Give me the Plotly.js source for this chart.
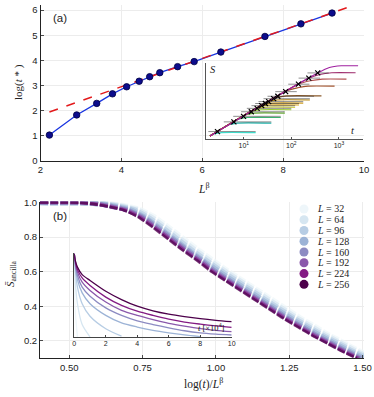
<!DOCTYPE html>
<html>
<head>
<meta charset="utf-8">
<script src="https://cdn.plot.ly/plotly-3.0.1.min.js"></script>
<style>
  html, body { margin: 0; padding: 0; background: #fff; }
  #chart { width: 374px; height: 397px; }
</style>
</head>
<body>
<div id="chart"></div>
<script>
// ---- panel (a): log(t*) vs L^beta ----
const aLbeta = [2.22, 2.895, 3.39, 3.78, 4.13, 4.44, 4.70, 4.95, 5.39, 5.80, 6.46, 7.55, 8.44, 9.21];
const aLogT = [1.03, 1.83, 2.29, 2.67, 2.95, 3.17, 3.35, 3.51, 3.75, 3.95, 4.33, 4.95, 5.45, 5.88];
const fitX = [2.22, 9.75];
const fitY = [1.95, 6.19];

// ---- inset of (a): S vs t (log t) ----
const crossT = [2.8, 6.2, 9.9, 14.4, 19.1, 23.8, 28.5, 33.4, 42.5, 51.9, 76, 141, 233, 358];
const crossS = [0.447, 0.795, 0.994, 1.159, 1.281, 1.377, 1.455, 1.524, 1.628, 1.715, 1.881, 2.149, 2.367, 2.554];
const curveT = [
  [1.95, 2.24, 3.4, 17.8],
  [1.95, 4.9, 7.4, 38],
  [1.95, 7.8, 11.7, 60],
  [1.95, 11.2, 17, 73],
  [1.95, 14.8, 22.4, 100],
  [1.95, 18.2, 27.5, 120],
  [1.95, 21.9, 33, 145],
  [1.95, 25.7, 38.9, 178],
  [1.95, 33.1, 50, 245],
  [1.95, 44.7, 79, 430],
  [1.95, 83, 137, 224, 810],
  [1.95, 141, 251, 447, 1440],
  [1.95, 224, 398, 708, 2240],
  [1.95, 355, 631, 1122, 2530]
];
const curveS = [
  [0.29, 0.35, 0.41, 0.41],
  [0.29, 0.69, 0.75, 0.75],
  [0.29, 0.89, 0.95, 0.95],
  [0.29, 1.05, 1.11, 1.11],
  [0.29, 1.17, 1.23, 1.23],
  [0.29, 1.26, 1.32, 1.32],
  [0.29, 1.34, 1.40, 1.40],
  [0.29, 1.41, 1.47, 1.47],
  [0.29, 1.52, 1.58, 1.58],
  [0.29, 1.65, 1.73, 1.73],
  [0.29, 1.92, 2.02, 2.08, 2.08],
  [0.29, 2.15, 2.27, 2.33, 2.33],
  [0.29, 2.35, 2.50, 2.56, 2.56],
  [0.29, 2.55, 2.75, 2.81, 2.81]
];
const curveColors = ['#40e0d0', '#20b2aa', '#3cb371', '#66aa33', '#9acd32', '#c0c020', '#daa520',
  '#cd9b1d', '#b8860b', '#8b5a2b', '#a0522d', '#b05050', '#a03070', '#a020a0'];
const blackFrom = [1.8, 3.8, 6, 8.8, 11.6, 14.5, 17.4, 20.4, 26, 31.6, 46, 86, 142, 218];
const blackTo = [17.8, 38, 60, 73, 100, 120, 145, 178, 245, 300, 130, 240, 400, 610];

// ---- panel (b): S_ancilla vs log(t)/L^beta ----
const Ls = [32, 64, 96, 128, 160, 192, 224, 256];
const Lcolors = ['#eef6fa', '#d6e6f1', '#b7cde4', '#9cb3d6', '#8c8bc2', '#8a58ab', '#831a83', '#4d004b'];
const bY = [1.0, 0.998, 0.99, 0.975, 0.955, 0.915, 0.855, 0.79, 0.725, 0.665, 0.605, 0.55, 0.495, 0.44, 0.385, 0.33, 0.28, 0.23, 0.185, 0.14, 0.10];
const bX = {
  32:  [0.40, 0.59, 0.64, 0.69, 0.74, 0.785, 0.835, 0.885, 0.935, 0.985, 1.035, 1.085, 1.135, 1.185, 1.235, 1.285, 1.335, 1.385, 1.435, 1.485, 1.535],
  64:  [0.40, 0.58, 0.63, 0.68, 0.73, 0.775, 0.825, 0.875, 0.925, 0.975, 1.025, 1.075, 1.125, 1.175, 1.225, 1.275, 1.325, 1.375, 1.425, 1.475, 1.525],
  96:  [0.40, 0.57, 0.62, 0.67, 0.72, 0.765, 0.815, 0.865, 0.915, 0.965, 1.015, 1.065, 1.115, 1.165, 1.215, 1.265, 1.315, 1.365, 1.415, 1.465, 1.515],
  128: [0.40, 0.56, 0.61, 0.66, 0.71, 0.755, 0.805, 0.855, 0.905, 0.955, 1.005, 1.055, 1.105, 1.155, 1.205, 1.255, 1.305, 1.355, 1.405, 1.455, 1.505],
  160: [0.40, 0.555, 0.605, 0.65, 0.70, 0.75, 0.80, 0.85, 0.90, 0.95, 0.995, 1.045, 1.095, 1.145, 1.195, 1.245, 1.295, 1.345, 1.395, 1.445, 1.495],
  192: [0.40, 0.55, 0.60, 0.645, 0.695, 0.745, 0.795, 0.845, 0.895, 0.945, 0.99, 1.04, 1.09, 1.14, 1.19, 1.24, 1.29, 1.34, 1.39, 1.44, 1.49],
  224: [0.40, 0.54, 0.59, 0.64, 0.69, 0.74, 0.79, 0.84, 0.89, 0.94, 0.985, 1.035, 1.085, 1.135, 1.185, 1.235, 1.285, 1.335, 1.385, 1.435, 1.485],
  256: [0.40, 0.535, 0.585, 0.635, 0.685, 0.735, 0.785, 0.835, 0.885, 0.935, 0.98, 1.03, 1.08, 1.13, 1.18, 1.23, 1.28, 1.33, 1.38, 1.43, 1.48]
};
const bWidth = [7, 6.5, 6, 5.5, 5, 4, 3.2, 2.6];

// ---- inset of (b): S vs t [x10^4] ----
const insT = [0, 0.05, 0.2, 0.5, 1, 2, 3, 4, 5, 6, 7, 8, 9, 10];
const insS = {
  32:  [1.0, 0.35, 0.0],
  64:  [1.0, 0.70, 0.40, 0.15, 0.0],
  96:  [1.0, 0.83, 0.60, 0.40, 0.25, 0.10, 0.01],
  128: [1.0, 0.87, 0.69, 0.53, 0.40, 0.26, 0.17, 0.12, 0.08, 0.05, 0.025, 0.005],
  160: [1.0, 0.89, 0.74, 0.60, 0.49, 0.35, 0.26, 0.195, 0.15, 0.11, 0.075, 0.05, 0.035, 0.024],
  192: [1.0, 0.91, 0.78, 0.66, 0.56, 0.42, 0.32, 0.26, 0.21, 0.165, 0.13, 0.10, 0.08, 0.064],
  224: [1.0, 0.92, 0.81, 0.71, 0.62, 0.48, 0.38, 0.31, 0.26, 0.215, 0.18, 0.155, 0.133, 0.116],
  256: [1.0, 0.93, 0.84, 0.75, 0.68, 0.55, 0.45, 0.37, 0.315, 0.275, 0.245, 0.22, 0.20, 0.184]
};

const W = 374, H = 397;
const fx = px => px / W;
const fy = py => 1 - py / H;
const sans = 'Liberation Sans, Arial, sans-serif';
const serif = 'Liberation Serif, DejaVu Serif, serif';

const traces = [];

// panel (a)
traces.push({ x: aLbeta, y: aLogT, xaxis: 'x', yaxis: 'y', mode: 'lines',
  line: { color: '#1a35e0', width: 1.3 }, hoverinfo: 'skip' });
traces.push({ x: fitX, y: fitY, xaxis: 'x', yaxis: 'y', mode: 'lines',
  line: { color: '#e31a1c', width: 1.5, dash: 'dash' }, hoverinfo: 'skip' });
traces.push({ x: aLbeta, y: aLogT, xaxis: 'x', yaxis: 'y', mode: 'markers',
  marker: { color: '#0c0c8c', size: 6.5, line: { color: '#000040', width: 0.8 } } });

// inset (a)
curveT.forEach((t, i) => {
  traces.push({ x: t, y: curveS[i], xaxis: 'x2', yaxis: 'y2', mode: 'lines',
    line: { color: curveColors[i], width: 1.1, shape: 'spline', smoothing: 0.6 }, hoverinfo: 'skip' });
});
crossT.forEach((t, i) => {
  traces.push({ x: [blackFrom[i], blackTo[i]], y: [crossS[i], crossS[i]], xaxis: 'x2', yaxis: 'y2',
    mode: 'lines', line: { color: '#222', width: 0.6 }, opacity: 0.85, hoverinfo: 'skip' });
});
traces.push({ x: crossT, y: crossS, xaxis: 'x2', yaxis: 'y2', mode: 'markers',
  marker: { symbol: 'x-thin', size: 5, line: { color: '#000', width: 1.2 } } });

// panel (b)
Ls.forEach((L, i) => {
  traces.push({ x: bX[L], y: bY, xaxis: 'x3', yaxis: 'y3', mode: 'lines',
    line: { color: Lcolors[i], width: bWidth[i], shape: 'spline', smoothing: 0.5, dash: '8px,2px' },
    opacity: 0.7, hoverinfo: 'skip' });
});

// inset (b)
Ls.forEach((L, i) => {
  traces.push({ x: insT.slice(0, insS[L].length), y: insS[L], xaxis: 'x4', yaxis: 'y4', mode: 'lines',
    line: { color: Lcolors[i], width: 1.3, shape: 'spline', smoothing: 0.7 }, hoverinfo: 'skip' });
});

// legend of (b), drawn on its own small axes
const legLabels = Ls.map(L => '<i>L</i> = ' + L);
traces.push({ x: Ls.map(() => 0), y: legLabels, xaxis: 'x5', yaxis: 'y5', mode: 'markers',
  marker: { color: Lcolors, size: 9 }, hoverinfo: 'skip' });

const mainAxis = {
  showline: true, linecolor: '#222', linewidth: 1, mirror: false,
  showgrid: true, gridcolor: '#ececec', gridwidth: 1, zeroline: false,
  ticks: 'inside', ticklen: 3, tickcolor: '#222', tickwidth: 0.8,
  tickfont: { family: sans, size: 9.5, color: '#222' }
};

const note = (text, px, py, size, fam, extra) => Object.assign({
  text, x: fx(px), y: fy(py), xref: 'paper', yref: 'paper', showarrow: false,
  xanchor: 'center', yanchor: 'middle', font: { family: fam, size, color: '#222' }
}, extra || {});

const layout = {
  width: W, height: H,
  margin: { l: 0, r: 0, t: 0, b: 0 },
  paper_bgcolor: '#fff', plot_bgcolor: 'rgba(0,0,0,0)',
  showlegend: false,
  xaxis: { ...mainAxis, domain: [fx(40.5), fx(364)], range: [2, 10], tickvals: [2, 4, 6, 8, 10], anchor: 'y' },
  yaxis: { ...mainAxis, domain: [fy(161), fy(5)], range: [0, 6.2], tickvals: [0, 1, 2, 3, 4, 5, 6], anchor: 'x' },
  xaxis2: { domain: [fx(205.7), fx(362.7)], type: 'log', range: [0.2, 3.5], anchor: 'y2',
    showline: true, linecolor: '#555', linewidth: 1, showgrid: false, zeroline: false,
    tickvals: [10, 100, 1000], ticktext: ['10<sup>1</sup>', '10<sup>2</sup>', '10<sup>3</sup>'],
    ticks: 'inside', ticklen: 2, tickcolor: '#555', tickfont: { family: sans, size: 7, color: '#222' } },
  yaxis2: { domain: [fy(139), fy(63)], range: [0.18, 2.91], anchor: 'x2',
    showline: true, linecolor: '#555', linewidth: 1, showgrid: false, zeroline: false,
    showticklabels: false, ticks: '' },
  xaxis3: { ...mainAxis, domain: [fx(40), fx(364)], range: [0.4, 1.505], tickvals: [0.5, 0.75, 1, 1.25, 1.5],
    tickformat: '.2f', anchor: 'y3' },
  yaxis3: { ...mainAxis, domain: [fy(358.3), fy(201.5)], range: [0.1, 1.005], tickvals: [0.2, 0.4, 0.6, 0.8, 1.0],
    tickformat: '.1f', anchor: 'x3' },
  xaxis4: { domain: [fx(74.3), fx(231.7)], range: [0, 10], dtick: 2, anchor: 'y4',
    showline: true, linecolor: '#444', linewidth: 1, showgrid: false, zeroline: false,
    ticks: 'inside', ticklen: 2, tickcolor: '#444', tickfont: { family: sans, size: 7, color: '#222' } },
  yaxis4: { domain: [fy(337), fy(253)], range: [0, 1.01], anchor: 'x4',
    showline: true, linecolor: '#444', linewidth: 1, showgrid: false, zeroline: false,
    showticklabels: false, ticks: '' },
  xaxis5: { domain: [fx(296), fx(312)], range: [-1, 1], anchor: 'y5', visible: false },
  yaxis5: { domain: [fy(289.7), fy(203.6)], type: 'category', categoryorder: 'array', categoryarray: legLabels,
    tickmode: 'array', tickvals: legLabels, ticktext: legLabels,
    range: [7.5, -0.5], anchor: 'x5', side: 'right', showline: false, showgrid: false, zeroline: false,
    ticks: '', ticklabelstandoff: 5, tickfont: { family: serif, size: 10, color: '#222' } },
  annotations: [
    note('(a)', 60, 17.5, 11.5, sans),
    note('(b)', 60, 216, 11.5, sans),
    note('log(<i>t</i> * )', 18.5, 82.5, 11, serif, { textangle: -90 }),
    note('<i>L</i><sup>β</sup>', 204, 188, 11.5, serif),
    note('<i>S̄</i><sub>ancilla</sub>', 11, 274, 11, serif, { textangle: -90 }),
    note('log(<i>t</i>)/<i>L</i><sup>β</sup>', 204, 383, 11.5, serif),
    note('<i>S</i>', 213, 70, 10.5, serif),
    note('<i>t</i>', 353, 130.5, 10.5, serif),
    note('<i>t</i> [×10<sup>4</sup>]', 211, 327.5, 8.5, serif)
  ]
};

Plotly.newPlot('chart', traces, layout, { displayModeBar: false, staticPlot: true });
</script>
</body>
</html>
